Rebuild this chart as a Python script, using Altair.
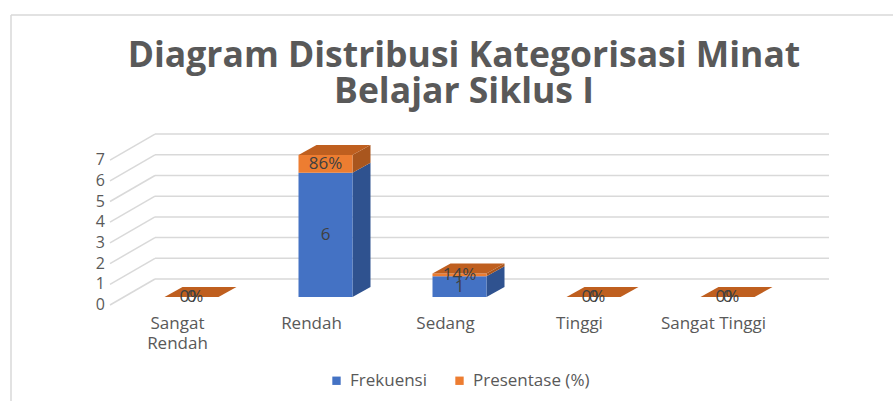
import altair as alt
import pandas as pd

# ---------------- data ----------------
categories = ["Sangat Rendah", "Rendah", "Sedang", "Tinggi", "Sangat Tinggi"]
category_display = ["Sangat\nRendah", "Rendah", "Sedang", "Tinggi", "Sangat Tinggi"]
frekuensi = [0, 6, 1, 0, 0]
presentase = [0.0, 0.86, 0.14, 0.0, 0.0]
presentase_labels = ["0%", "86%", "14%", "0%", "0%"]
y_ticks = [0, 1, 2, 3, 4, 5, 6, 7]
series_names = ["Frekuensi", "Presentase (%)"]
title_lines = ["Diagram Distribusi Kategorisasi Minat", "Belajar Siklus I"]

# ---------------- geometry / style ----------------
W, H = 893, 401
CAT_PX = 134.0      # px per category step
UNIT_PX = 20.7      # px per value unit
X0_PX = 191.5       # px of first bar front centre
Y0_PX = 297.0       # px of value 0 on bar front plane


def ux(px):
    return (px - X0_PX) / CAT_PX


def dx(px):
    return px / CAT_PX


def dy(px):
    return px / UNIT_PX


BAR_HALF = dx(27)
DEP_X, DEP_Y = dx(18), dy(10)
WALL_DY = dy(18)
AXIS_DY = dy(-8)
WALL_L, WALL_R, AXIS_L = ux(155), ux(829), ux(110)

FONT = "Open Sans"
GREY = "#595959"
front_colors = ["#4472C4", "#ED7D31"]
side_colors = ["#2F528F", "#A9561E"]
top_color = "#BF5F1F"
grid_color = "#D9D9D9"

X_SCALE = alt.Scale(domain=[ux(0), ux(W)], nice=False, zero=False)
Y_SCALE = alt.Scale(domain=[(Y0_PX - H) / UNIT_PX, Y0_PX / UNIT_PX], nice=False, zero=False)

# ---------------- derived tables ----------------
front_rows, side_rows, top_rows, label_rows = [], [], [], []
for i, (cat, f, p, pl) in enumerate(zip(categories, frekuensi, presentase, presentase_labels)):
    segs = [(series_names[0], 0, f, str(f), side_colors[0]),
            (series_names[1], f, f + p, pl, side_colors[1])]
    for s, lo, hi, lab, sc in segs:
        front_rows.append(dict(series=s, x=i - BAR_HALF, x2=i + BAR_HALF, y=lo, y2=hi))
        face = f"{cat}|{s}"
        side_rows.append(dict(face=face, x=i + BAR_HALF, lo=lo, hi=hi, fill=sc))
        side_rows.append(dict(face=face, x=i + BAR_HALF + DEP_X, lo=lo + DEP_Y, hi=hi + DEP_Y, fill=sc))
        label_rows.append(dict(x=i, y=(lo + hi) / 2, text=lab))
    tot = f + p
    top_rows.append(dict(face=cat, y=tot, xa=i - BAR_HALF, xb=i + BAR_HALF))
    top_rows.append(dict(face=cat, y=tot + DEP_Y, xa=i - BAR_HALF + DEP_X, xb=i + BAR_HALF + DEP_X))

front_df = pd.DataFrame(front_rows)
side_df = pd.DataFrame(side_rows)
top_df = pd.DataFrame(top_rows)
label_df = pd.DataFrame(label_rows)

grid_rows = []
for k in y_ticks:
    grid_rows.append(dict(x=WALL_L, x2=WALL_R, y=k + WALL_DY, y2=k + WALL_DY))
    grid_rows.append(dict(x=AXIS_L, x2=WALL_L, y=k + AXIS_DY, y2=k + WALL_DY))
grid_df = pd.DataFrame(grid_rows)

ytick_df = pd.DataFrame(dict(v=y_ticks, y=[k + AXIS_DY for k in y_ticks], x=[ux(105)] * len(y_ticks)))
cat_df = pd.DataFrame(dict(label=category_display, x=[i + dx(-14) for i in range(len(categories))]))
title_df = pd.DataFrame(dict(t=["\n".join(title_lines)]))
one = pd.DataFrame(dict(a=[0]))

# ---------------- layers ----------------
border_top = alt.Chart(one).mark_rule(color=grid_color, strokeWidth=1.5).encode(
    x=alt.value(11), x2=alt.value(W), y=alt.value(15))
border_left = alt.Chart(one).mark_rule(color=grid_color, strokeWidth=1.5).encode(
    x=alt.value(11), y=alt.value(15), y2=alt.value(H))

title = alt.Chart(title_df).mark_text(
    font=FONT, fontSize=35.5, fontWeight="bold", color=GREY, lineBreak="\n", lineHeight=35.5,
    align="center", baseline="alphabetic").encode(
    text="t:N", x=alt.value(464), y=alt.value(67))

grid = alt.Chart(grid_df).mark_rule(color=grid_color, strokeWidth=1.5).encode(
    x=alt.X("x:Q", scale=X_SCALE, axis=None), x2="x2:Q",
    y=alt.Y("y:Q", scale=Y_SCALE, axis=None), y2="y2:Q")

yticks = alt.Chart(ytick_df).mark_text(font=FONT, fontSize=16, color=GREY, align="right",
                                       baseline="middle").encode(
    x=alt.X("x:Q", scale=X_SCALE, axis=None),
    y=alt.Y("y:Q", scale=Y_SCALE, axis=None), text="v:N")

sides = alt.Chart(side_df).mark_area(opacity=1).encode(
    x=alt.X("x:Q", scale=X_SCALE, axis=None),
    y=alt.Y("lo:Q", scale=Y_SCALE, axis=None, stack=None), y2="hi:Q",
    detail="face:N", color=alt.Color("fill:N", scale=None))

fronts = alt.Chart(front_df).mark_rect().encode(
    x=alt.X("x:Q", scale=X_SCALE, axis=None), x2="x2:Q",
    y=alt.Y("y:Q", scale=Y_SCALE, axis=None), y2="y2:Q",
    color=alt.Color("series:N", scale=alt.Scale(domain=series_names, range=front_colors),
                    legend=alt.Legend(title=None, orient="none", direction="horizontal",
                                      legendX=328, legendY=372, symbolType="square",
                                      symbolSize=70, symbolStrokeWidth=0, labelFont=FONT,
                                      labelFontSize=17, labelColor=GREY, columnPadding=24,
                                      labelOffset=5, padding=0)))

tops = alt.Chart(top_df).mark_area(orient="horizontal", color=top_color, opacity=1).encode(
    y=alt.Y("y:Q", scale=Y_SCALE, axis=None),
    x=alt.X("xa:Q", scale=X_SCALE, axis=None, stack=None), x2="xb:Q",
    detail="face:N")

labels = alt.Chart(label_df).mark_text(font=FONT, fontSize=17, color="#404040",
                                       baseline="middle").encode(
    x=alt.X("x:Q", scale=X_SCALE, axis=None),
    y=alt.Y("y:Q", scale=Y_SCALE, axis=None), text="text:N")

cats = alt.Chart(cat_df).mark_text(font=FONT, fontSize=17, color=GREY, baseline="top",
                                   lineBreak="\n", lineHeight=20).encode(
    x=alt.X("x:Q", scale=X_SCALE, axis=None), y=alt.value(316), text="label:N")

chart = alt.layer(border_top, border_left, title, grid, yticks, sides, fronts, tops, labels, cats).resolve_scale(
    color="independent").properties(
    width=W, height=H, padding=0, autosize=alt.AutoSizeParams(type="none"), background="white"
).configure_view(stroke=None)

chart.save("out.html", embed_options={"renderer": "svg", "actions": False})
